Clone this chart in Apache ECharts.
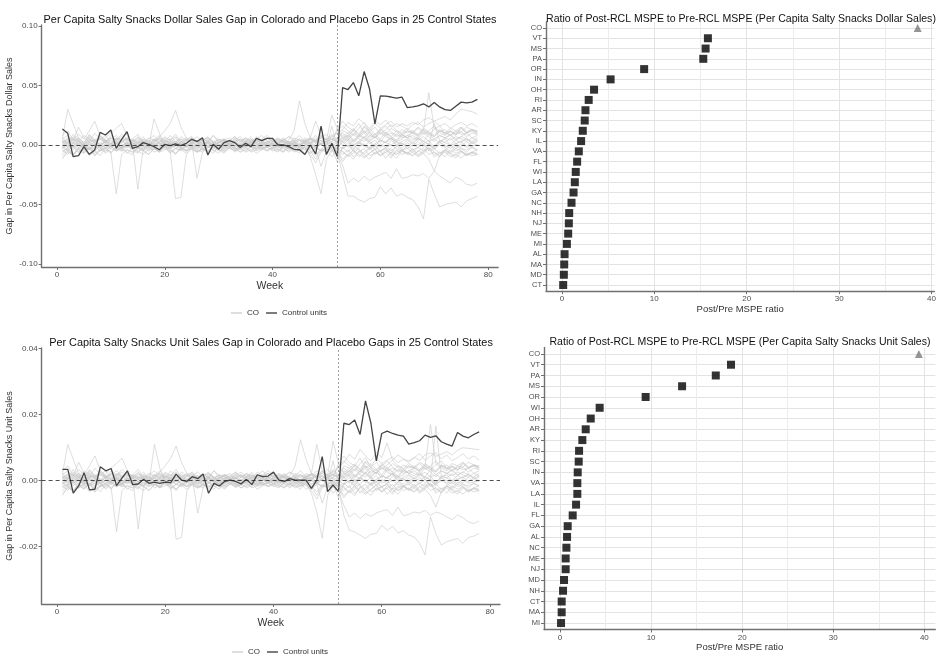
<!DOCTYPE html>
<html><head><meta charset="utf-8">
<script src="https://cdn.jsdelivr.net/npm/echarts@6/dist/echarts.min.js"></script>
<style>html,body{margin:0;padding:0;background:#fff}#c{width:939px;height:655px}</style>
</head><body><div id="c"></div><script>
// ---------- DATA ----------
const weeks = [1,2,3,4,5,6,7,8,9,10,11,12,13,14,15,16,17,18,19,20,21,22,23,24,25,26,27,28,29,30,31,32,33,34,35,36,37,38,39,40,41,42,43,44,45,46,47,48,49,50,51,52,53,54,55,56,57,58,59,60,61,62,63,64,65,66,67,68,69,70,71,72,73,74,75,76,77,78];
const treatWeek = 52;
// Dollar-sales gaps, in units of 0.001
const coDollar = [13.4,9.8,-9.8,-9,-1.4,-7.8,-4.2,10.6,8.4,12.6,-2.8,4.8,11.2,
-2.8,-1.4,2,0.6,-1.4,-4,0.6,-0.6,1,-0.6,1.4,4.8,3,
6,-8.4,0.6,-3.6,2,3.6,2,-2.2,1.4,-1.4,5.6,3.6,5.6,
5.6,0,0,-1.4,-3.6,-4,-8,0,-7.5,15.8,-8,1.4,-9.7,
48.2,46.6,52.4,41.3,61.7,47,17.8,41.3,41,40.3,39.4,40.3,31.4,
32,32.8,34.6,32,35.6,32,29.7,29,32.5,36,35.3,36,38.3];
const pd01 = [5,30,18,6,2,8,4,-2,3,6,1,-3,4, 2,-1,5,3,0,-2,4,2,6,1,-1,3,2, 0,4,2,-1,3,1,2,5,0,3,1,-2,2, 4,1,3,0,2,5,3,1,4,6,2,8,3, 12,10,14,9,16,12,18,14,17,20,15,18,16, 19,17,21,23,20,22,24,21,26,30,29,28,26];
const pd02 = [-10,-6,-8,-4,-7,-2,-5,-9,-3,-6,-41,-8,-4, -6,-2,-5,-8,-3,-6,-1,-4,-7,-3,-5,-2,-6, -4,-1,-5,-3,-6,-2,-4,-1,-3,-5,-2,-4,0, -3,-5,-2,-6,-3,-1,-4,-7,-2,-5,-3,-1,-4, -2,2,-1,3,0,-2,1,4,2,0,3,1,-1, 2,0,3,1,-2,4,2,0,1,3,-1,2,0];
const pd03 = [2,6,4,9,5,12,20,8,3,6,4,9,5, 2,-37,-4,3,5,1,4,2,-1,3,6,2,4, 1,5,3,0,2,4,1,-2,3,5,2,0,3, 1,4,2,-1,3,0,5,2,4,1,3,6,2, 8,6,10,7,12,9,6,11,8,10,7,9,12, 10,8,11,9,7,12,10,8,11,9,10,12,11];
const pd04 = [-5,-3,0,-6,-2,-4,1,-3,-5,-1,-4,-2,0, -3,-6,-1,-4,-2,0,-3,-5,-45,-44,-8,-3,-1, -4,-2,0,-3,-1,2,-2,-4,0,-1,-3,1,-2, 0,-3,-1,-4,1,-2,0,-3,-1,-5,-2,0,-3, -6,-9,-5,-8,-11,-7,-4,-9,-6,-3,-8,-5,-7, -4,-9,-6,-2,-10,-7,-5,-8,-11,-6,-9,-7,-8];
const pd05 = [3,1,5,2,-1,4,2,6,3,0,4,2,5, 3,1,4,0,2,7,12,18,29,15,6,2,-28, -6,3,1,4,-1,2,5,0,3,1,4,2,6, 3,1,5,2,4,0,3,6,2,4,1,3,5, 3,6,2,8,5,3,7,4,2,6,3,5,8, 6,4,7,3,5,8,6,4,7,5,3,6,4];
const pd06 = [-2,-5,-1,-3,0,-4,-2,1,-3,-1,-5,-2,0, -3,-1,-4,0,-2,-5,-1,-3,1,-2,-4,0,-1, -3,-5,-2,0,-4,-1,-3,-6,-2,0,-3,-1,-4, -2,0,-3,-5,-1,-4,-2,-10,-25,-41,-12,-4,-8, -3,0,-4,2,-1,-3,1,-2,0,-5,-1,2,-3, 0,-2,1,-4,-1,3,-2,0,-3,1,-2,-1,0];
const pd07 = [4,2,6,3,8,5,2,7,4,1,5,3,6, 4,2,5,1,3,6,2,4,7,3,1,5,2, 4,6,3,1,5,2,4,7,3,5,2,4,6, 3,5,2,4,12,37,18,6,3,8,5,2,14, 20,15,12,18,10,14,9,12,16,11,8,13,10, 12,9,14,11,8,13,10,12,9,15,11,13,12];
const pd08 = [-1,3,-2,1,-4,0,2,-3,1,-1,3,-2,0, 2,-1,1,-3,0,2,-2,1,-1,3,0,-2,1, -1,2,0,-3,1,-1,2,0,-2,1,-1,3,0, -2,1,0,-1,2,-3,0,1,-2,-5,2,-4,-8, -17,-32,-28,-31,-26,-30,-27,-25,-23,-28,-20,-28,-27, -25,-26,-24,-28,-22,-26,-29,-32,-27,-29,-33,-34,-32];
const pd09 = [1,-2,2,0,-3,1,-1,2,-2,0,1,-3,2, -1,1,-2,0,2,-1,1,-3,0,2,-1,1,-2, 0,2,-1,1,-2,0,3,-1,1,-2,0,2,-1, 1,-1,0,2,-2,1,-1,0,-3,1,-4,0,-6, -25,-43,-43,-46,-48,-45,-44,-35,-41,-36,-43,-41,-44, -46,-52,-62,-29,-41,-52,-50,-49,-48,-52,-47,-45,-43];
const pd10 = [2,-1,4,1,-2,3,0,5,2,-1,3,1,-2, 4,1,3,-1,2,5,0,3,1,-2,4,2,0, 3,1,-1,2,4,0,3,-2,1,4,2,0,3, 1,-1,3,2,0,4,1,3,-1,2,5,1,3, 6,4,9,5,3,8,6,10,7,5,9,6,8, 10,7,12,44,14,10,8,12,9,11,7,10,9];
const pd11 = [-3,0,-2,2,-1,-4,1,-2,0,-3,2,-1,-2, 0,-3,1,-1,-4,2,0,-2,1,-3,-1,2,0, -2,1,-1,-3,0,2,-2,1,-1,0,-3,1,-2, 0,2,-1,1,-2,0,3,6,20,8,4,25,14, 6,10,4,8,12,6,9,5,11,7,4,9,6, 8,5,10,7,3,8,6,9,5,7,10,6,8];
const pd12 = [5,8,3,6,2,9,4,7,3,5,8,4,6, 3,7,2,5,8,3,6,4,9,2,5,7,3, 6,2,8,4,5,3,7,2,6,4,3,5,8, 4,6,3,7,5,2,6,4,8,3,5,7,10, 13,19,16,22,18,14,20,17,21,15,18,16,13, 17,19,15,18,20,16,18,14,17,19,16,18,15];
const pd13 = [-6,-3,-8,-2,-5,-1,-7,-4,-2,-6,-3,-5,-1, -4,-7,-2,-5,-3,-6,-1,-4,-8,-2,-5,-3,-6, -2,-4,-7,-1,-5,-3,-2,-6,-4,-1,-5,-3,-2, -4,-6,-1,-3,-5,-2,-7,-4,-9,-3,-6,-2,-5, -8,-4,-10,-6,-3,-9,-7,-5,-11,-6,-8,-4,-7, -9,-5,-3,-8,-6,-10,-4,-7,-9,-5,-8,-6,-7];
const pd14 = [8,12,4,15,6,3,10,5,2,8,4,7,3, 5,9,2,6,4,8,3,5,2,7,4,6,1, 5,3,8,2,4,6,1,5,3,7,2,4,6, 2,5,3,1,6,4,2,5,3,7,4,9,5, 10,7,13,9,6,11,8,14,10,7,12,9,6, 11,8,13,10,7,12,9,11,8,14,10,12,9];
const pd15 = [-12,-5,-8,-3,-7,-2,-9,-4,-6,-1,-5,-3,-7, -2,-5,-8,-3,-1,-6,-4,-2,-7,-3,-5,-1,-4, -6,-2,-4,-7,-1,-3,-5,-2,-6,-4,-1,-3,-5, -2,-4,-6,-1,-3,-5,-2,-8,-15,-6,-3,-10,-4, -5,-10,-7,-3,-8,-12,-6,-9,-4,-7,-11,-5,-8, -6,-10,-7,-12,-22,-9,-6,-10,-8,-11,-7,-9,-8];
const pd16 = [0,4,2,6,1,3,5,0,2,4,1,3,0, 2,5,1,3,0,4,2,1,3,0,5,2,4, 1,3,0,2,4,1,3,5,0,2,4,1,3, 0,2,5,1,3,0,4,2,6,1,3,5,2, 5,8,3,6,10,4,7,2,9,5,3,8,6, 4,7,3,9,5,2,6,8,4,7,5,3,6];
const pd17 = [3,-2,1,5,-1,2,4,0,6,10,14,18,8, 2,-1,3,0,4,1,-2,2,0,3,-1,1,4, 0,2,-1,3,1,-2,2,0,4,1,-1,3,0, 2,-1,1,3,0,-2,2,1,4,0,3,-1,2, 3,-2,5,1,7,3,-1,4,2,6,0,3,5, 2,6,1,4,-2,3,5,0,4,2,6,1,3];
const pd18 = [-2,1,-4,0,-3,2,-1,-5,1,-2,0,-4,2, -1,-3,1,-2,22,10,-1,2,-3,0,-2,1,-4, 0,-2,2,-1,-3,1,0,-2,3,-1,-4,0,1, -3,0,-2,1,-1,-4,0,2,-2,1,-3,0,-5, -12,-8,-4,-10,-6,-2,-8,-5,-3,-9,-6,-4,-7, -3,-8,-5,-2,-6,-9,-4,-7,-3,-5,-8,-6,-4];
const pd19 = [6,2,9,4,1,7,3,5,8,2,6,4,1, 5,3,7,1,4,6,2,8,3,5,1,4,7, 3,6,2,5,1,4,7,3,6,2,5,8,3, 6,2,4,7,3,5,1,6,4,8,2,5,3, 0,4,-3,2,-1,3,-4,1,-2,4,0,-3,2, -1,3,-2,1,-4,2,0,-3,1,-2,3,-1,0];
const pd20 = [-4,-8,-2,-6,-3,-9,-5,-1,-7,-3,-5,-2,-6, -8,-3,-5,-1,-6,-4,-2,-7,-3,-5,-1,-4,-6, -3,-7,-2,-5,-4,-1,-6,-3,-5,-2,-7,-4,-1, -5,-3,-6,-2,-4,-7,-1,-5,-12,-4,-6,-3,-14, -2,-6,1,-4,-8,-3,0,-5,-2,-7,-1,-4,-3, -6,-2,-5,0,-3,-7,-4,-1,-5,-3,-6,-2,-4];
const pd21 = [2,5,-1,3,0,6,2,-2,4,1,3,-1,2, 0,3,1,4,-1,2,5,0,3,1,-2,4,2, -1,3,0,2,5,1,-1,3,2,0,4,1,-2, 3,1,4,0,2,-1,3,5,1,4,0,2,-3, 4,8,12,7,15,10,6,13,9,14,11,7,12, 10,14,9,12,16,11,13,8,12,15,10,13,11];
const pd22 = [-1,-4,2,-2,1,-3,0,-5,-2,1,-1,-3,0, -2,1,-4,0,-1,-3,2,-2,0,-4,1,-1,-3, 2,-1,-3,0,-2,1,-4,-1,0,-2,2,-3,-1, 1,-2,0,-3,2,-1,-4,0,-2,1,-3,-6,0, -3,0,-5,-2,1,-4,-1,-6,-2,0,-3,-5,-1, -4,-2,1,-5,-3,0,-2,-6,-1,-3,-4,-2,-5];
const pd23 = [4,1,7,3,0,5,2,8,4,1,6,3,5, 2,6,3,0,5,2,7,4,1,5,3,6,2, 4,7,2,5,3,0,6,3,5,2,7,4,1, 5,3,6,2,4,8,3,5,2,6,9,4,12, 16,12,8,14,19,11,15,9,13,17,12,10,14, 11,15,12,9,13,16,10,14,12,11,15,13,10];
const pd24 = [-3,2,-1,4,-2,1,-4,0,3,-1,2,-3,1, -1,3,0,-2,2,-1,4,0,-3,1,-1,2,0, 3,-1,1,-2,2,0,-3,1,-1,3,0,-2,2, -1,1,-2,3,0,-1,2,-3,1,0,-2,16,-2, 2,5,0,3,7,1,4,-1,3,6,2,0,4, 1,5,3,0,18,4,2,6,1,3,5,2,4];
const pd25 = [-8,-4,-10,-3,-6,-2,-9,-5,-3,-7,-1,-5,-4, -6,-2,-4,-8,-3,-5,-1,-6,-3,-4,-7,-2,-5, -3,-6,-1,-4,-7,-2,-5,-3,-1,-6,-4,-2,-5, -3,-1,-5,-2,-6,-4,-2,-7,-3,-18,-5,-2,-6, -14,-8,-12,-5,-10,-7,-3,-9,-6,-11,-4,-8,-6, -9,-5,-7,-3,-8,-6,-10,-4,-7,-5,-9,-6,-8];
// Unit-sales gaps, in units of 0.0001
const coUnit = [34,34,-38,-16,24,-28,-26,42,30,37,-15,8,30, -12,-10,4,-8,-4,-8,-4,-6,20,2,-2,12,6, 20,-38,-8,-16,-2,2,-2,-10,4,-12,18,12,14, 26,2,-2,6,2,2,2,-23,2,73,-33,-13,-33, 174,170,184,140,242,174,60,143,150,143,138,135,111, 115,121,138,131,136,118,111,105,146,135,130,140,148];
const pu01 = [20,110,65,22,8,30,15,-8,12,22,4,-10,15, 8,-4,18,10,0,-8,15,8,22,4,-4,12,8, 0,15,8,-4,10,4,8,18,0,12,4,-8,8, 15,4,10,0,8,18,10,4,15,22,8,30,10, 45,38,50,34,60,45,66,52,62,72,55,65,60, 70,62,78,85,74,80,88,78,92,100,98,96,94];
const pu02 = [-38,-22,-30,-15,-26,-8,-18,-34,-11,-22,-155,-30,-15, -22,-8,-18,-30,-11,-22,-4,-15,-26,-11,-18,-8,-22, -15,-4,-18,-11,-22,-8,-15,-4,-11,-18,-8,-15,0, -11,-18,-8,-22,-11,-4,-15,-26,-8,-18,-11,-4,-15, -8,8,-4,11,0,-8,4,15,8,0,11,4,-4, 8,0,11,4,-8,15,8,0,4,11,-4,8,0];
const pu03 = [8,22,15,34,18,45,75,30,11,22,15,34,18, 8,-146,-15,11,18,4,15,8,-4,11,22,8,15, 4,18,11,0,8,15,4,-8,11,18,8,0,11, 4,15,8,-4,11,0,18,8,15,4,11,22,8, 30,22,38,26,45,34,22,41,30,38,26,34,45, 38,30,41,34,26,45,38,30,41,34,38,45,41];
const pu04 = [-18,-11,0,-22,-8,-15,4,-11,-18,-4,-15,-8,0, -11,-22,-4,-15,-8,0,-11,-18,-177,-172,-30,-11,-4, -15,-8,0,-11,-4,8,-8,-15,0,-4,-11,4,-8, 0,-11,-4,-15,4,-8,0,-11,-4,-18,-8,0,-11, -22,-34,-18,-30,-41,-26,-15,-34,-22,-11,-30,-18,-26, -15,-34,-22,-8,-38,-26,-18,-30,-41,-22,-34,-26,-30];
const pu05 = [11,4,18,8,-4,15,8,22,11,0,15,8,18, 11,4,15,0,8,26,45,68,105,55,22,8,-98, -22,11,4,15,-4,8,18,0,11,4,15,8,22, 11,4,18,8,15,0,11,22,8,15,4,11,18, 11,22,8,30,18,11,26,15,8,22,11,18,30, 22,15,26,11,18,30,22,15,26,18,11,22,15];
const pu06 = [-8,-18,-4,-11,0,-15,-8,4,-11,-4,-18,-8,0, -11,-4,-15,0,-8,-18,-4,-11,4,-8,-15,0,-4, -11,-18,-8,0,-15,-4,-11,-22,-8,0,-11,-4,-15, -8,0,-11,-18,-4,-15,-8,-38,-95,-174,-45,-15,-30, -11,0,-15,8,-4,-11,4,-8,0,-18,-4,8,-11, 0,-8,4,-15,-4,11,-8,0,-11,4,-8,-4,0];
const pu07 = [15,8,22,11,30,18,8,26,15,4,18,11,22, 15,8,18,4,11,22,8,15,26,11,4,18,8, 15,22,11,4,18,8,15,26,11,18,8,15,22, 11,18,8,15,45,124,65,22,11,30,18,8,50, 75,55,45,68,38,52,34,45,60,41,30,48,38, 45,34,52,41,30,48,38,45,34,56,41,48,45];
const pu08 = [-4,11,-8,4,-15,0,8,-11,4,-4,11,-8,0, 8,-4,4,-11,0,8,-8,4,-4,11,0,-8,4, -4,8,0,-11,4,-4,8,0,-8,4,-4,11,0, -8,4,0,-4,8,-11,0,4,-8,-18,8,-15,-30, -75,-110,-98,-115,-100,-108,-98,-92,-88,-105,-80,-106,-102, -95,-98,-90,-105,-95,-100,-110,-118,-104,-112,-125,-130,-122];
const pu09 = [4,-8,8,0,-11,4,-4,8,-8,0,4,-11,8, -4,4,-8,0,8,-4,4,-11,0,8,-4,4,-8, 0,8,-4,4,-8,0,11,-4,4,-8,0,8,-4, 4,-4,0,8,-8,4,-4,0,-11,4,-15,0,-22, -105,-150,-155,-165,-175,-162,-160,-135,-150,-138,-158,-152,-165, -170,-190,-225,-110,-160,-195,-185,-180,-175,-190,-172,-168,-160];
const pu10 = [8,-4,15,4,-8,11,0,18,8,-4,11,4,-8, 15,4,11,-4,8,18,0,11,4,-8,15,8,0, 11,4,-4,8,15,0,11,-8,4,15,8,0,11, 4,-4,11,8,0,15,4,11,-4,8,18,4,11, 22,15,34,18,11,30,22,38,26,18,34,22,30, 38,26,45,170,52,38,30,45,34,41,26,38,34];
const pu11 = [-11,0,-8,8,-4,-15,4,-8,0,-11,8,-4,-8, 0,-11,4,-4,-15,8,0,-8,4,-11,-4,8,0, -8,4,-4,-11,0,8,-8,4,-4,0,-11,4,-8, 0,8,-4,4,-8,0,11,22,110,30,15,120,52, 22,38,15,30,45,22,34,18,41,26,15,34,22, 30,18,38,26,11,30,22,34,18,26,38,22,30];
const pu12 = [18,30,11,22,8,34,15,26,11,18,30,15,22, 11,26,8,18,30,11,22,15,34,8,18,26,11, 22,8,30,15,18,11,26,8,22,15,11,18,30, 15,22,11,26,18,8,22,15,30,11,18,26,38, 55,80,65,95,75,60,85,70,114,62,78,66,55, 70,82,62,75,85,66,78,60,70,82,66,75,62];
const pu13 = [-22,-11,-30,-8,-18,-4,-26,-15,-8,-22,-11,-18,-4, -15,-26,-8,-18,-11,-22,-4,-15,-30,-8,-18,-11,-22, -8,-15,-26,-4,-18,-11,-8,-22,-15,-4,-18,-11,-8, -15,-22,-4,-11,-18,-8,-26,-15,-34,-11,-22,-8,-18, -30,-15,-38,-22,-11,-34,-26,-18,-41,-22,-30,-15,-26, -34,-18,-11,-30,-22,-38,-15,-26,-34,-18,-30,-22,-26];
const pu14 = [30,45,15,56,22,11,38,18,8,30,15,26,11, 18,34,8,22,15,30,11,18,8,26,15,22,4, 18,11,30,8,15,22,4,18,11,26,8,15,22, 8,18,11,4,22,15,8,18,11,26,15,34,18, 38,26,48,34,22,41,30,52,38,26,45,34,22, 41,30,48,38,26,45,34,41,30,52,38,45,34];
const pu15 = [-45,-18,-30,-11,-26,-8,-34,-15,-22,-4,-18,-11,-26, -8,-18,-30,-11,-4,-22,-15,-8,-26,-11,-18,-4,-15, -22,-8,-15,-26,-4,-11,-18,-8,-22,-15,-4,-11,-18, -8,-15,-22,-4,-11,-18,-8,-30,-56,-22,-11,-38,-15, -18,-38,-26,-11,-30,-45,-22,-34,-15,-26,-41,-18,-30, -22,-38,-26,-45,-80,-34,-22,-38,-30,-41,-26,-34,-30];
const pu16 = [0,15,8,22,4,11,18,0,8,15,4,11,0, 8,18,4,11,0,15,8,4,11,0,18,8,15, 4,11,0,8,15,4,11,18,0,8,15,4,11, 0,8,18,4,11,0,15,8,22,4,11,18,8, 18,30,11,22,38,15,26,8,34,18,11,30,22, 15,26,11,34,18,8,22,30,15,26,18,11,22];
const pu17 = [11,-8,4,18,-4,8,15,0,22,38,52,68,30, 8,-4,11,0,15,4,-8,8,0,11,-4,4,15, 0,8,-4,11,4,-8,8,0,15,4,-4,11,0, 8,-4,4,11,0,-8,8,4,15,0,11,-4,8, 11,-8,18,4,26,11,-4,15,8,22,0,11,18, 8,22,4,15,-8,11,18,0,15,8,22,4,11];
const pu18 = [-8,4,-15,0,-11,8,-4,-18,4,-8,0,-15,8, -4,-11,4,-8,110,38,-4,8,-11,0,-8,4,-15, 0,-8,8,-4,-11,4,0,-8,11,-4,-15,0,4, -11,0,-8,4,-4,-15,0,8,-8,4,-11,0,-18, -45,-30,-15,-38,-22,-8,-30,-18,-11,-34,-22,-15,-26, -11,-30,-18,-8,-22,-34,-15,-26,-11,-18,-30,-22,-15];
const pu19 = [22,8,34,15,4,26,11,18,30,8,22,15,4, 18,11,26,4,15,22,8,30,11,18,4,15,26, 11,22,8,18,4,15,26,11,22,8,18,30,11, 22,8,15,26,11,18,4,22,15,30,8,18,11, 0,15,-11,8,-4,11,-15,4,-8,15,0,-11,8, -4,11,-8,4,-15,8,0,-11,4,-8,11,-4,0];
const pu20 = [-15,-30,-8,-22,-11,-34,-18,-4,-26,-11,-18,-8,-22, -30,-11,-18,-4,-22,-15,-8,-26,-11,-18,-4,-15,-22, -11,-26,-8,-18,-15,-4,-22,-11,-18,-8,-26,-15,-4, -18,-11,-22,-8,-15,-26,-4,-18,-45,-15,-22,-11,-52, -8,-22,4,-15,-30,-11,0,-18,-8,-26,-4,-15,-11, -22,-8,-18,0,-11,-26,-15,-4,-18,-11,-22,-8,-15];
const pu21 = [8,18,-4,11,0,22,8,-8,15,4,11,-4,8, 0,11,4,15,-4,8,18,0,11,4,-8,15,8, -4,11,0,8,18,4,-4,11,8,0,15,4,-8, 11,4,15,0,8,-4,11,18,4,15,0,8,-11, 15,30,45,26,56,38,22,48,34,52,41,26,45, 38,52,34,45,60,41,48,30,45,56,38,48,41];
const pu22 = [-4,-15,8,-8,4,-11,0,-18,-8,4,-4,-11,0, -8,4,-15,0,-4,-11,8,-8,0,-15,4,-4,-11, 8,-4,-11,0,-8,4,-15,-4,0,-8,8,-11,-4, 4,-8,0,-11,8,-4,-15,0,-8,4,-11,-22,0, -11,0,-18,-8,4,-15,-4,-22,-8,0,-11,-18,-4, -15,-8,4,-18,-11,0,-8,-22,-4,-11,-15,-8,-18];
const pu23 = [15,4,26,11,0,18,8,30,15,4,22,11,18, 8,22,11,0,18,8,26,15,4,18,11,22,8, 15,26,8,18,11,0,22,11,18,8,26,15,4, 18,11,22,8,15,30,11,18,8,22,34,15,45, 60,45,30,52,70,41,56,34,48,62,45,38,52, 41,56,45,34,48,60,38,52,45,41,56,48,38];
const pu24 = [-11,8,-4,15,-8,4,-15,0,11,-4,8,-11,4, -4,11,0,-8,8,-4,15,0,-11,4,-4,8,0, 11,-4,4,-8,8,0,-11,4,-4,11,0,-8,8, -4,4,-8,11,0,-4,8,-11,4,0,-8,60,-8, 8,18,0,11,26,4,15,-4,11,22,8,0,15, 4,18,11,0,165,15,8,22,4,11,18,8,15];
const pu25 = [-30,-15,-38,-11,-22,-8,-34,-18,-11,-26,-4,-18,-15, -22,-8,-15,-30,-11,-18,-4,-22,-11,-15,-26,-8,-18, -11,-22,-4,-15,-26,-8,-18,-11,-4,-22,-15,-8,-18, -11,-4,-18,-8,-22,-15,-8,-26,-11,-68,-18,-8,-22, -52,-30,-45,-18,-38,-26,-11,-34,-22,-41,-15,-30,-22, -34,-18,-26,-11,-30,-22,-38,-15,-26,-18,-34,-22,-30];
// MSPE ratio (post/pre), categories listed bottom to top
const dollarStates = ['CT','MD','MA','AL','MI','ME','NJ','NH','NC','GA','LA','WI','FL','VA','IL','KY','SC','AR','RI','OH','IN','OR','PA','MS','VT','CO'];
const dollarRatio  = [0.14,0.21,0.25,0.29,0.54,0.68,0.75,0.79,1.04,1.26,1.4,1.5,1.65,1.83,2.08,2.26,2.47,2.55,2.9,3.48,5.27,8.9,15.3,15.55,15.8,38.5];
const unitStates = ['MI','MA','CT','NH','MD','NJ','ME','NC','AL','GA','FL','IL','LA','VA','IN','SC','RI','KY','AR','OH','WI','OR','MS','PA','VT','CO'];
const unitRatio  = [0.11,0.18,0.18,0.33,0.44,0.62,0.62,0.7,0.77,0.84,1.39,1.76,1.9,1.9,1.94,2.05,2.09,2.45,2.82,3.37,4.35,9.4,13.4,17.1,18.77,39.4];
const dollarTicks = [-100,-50,0,50,100];
const unitTicks = [-200,0,200,400];
const weekTicks = [0,20,40,60,80];
const ratioTicks = [0,10,20,30,40];
const ratioMinor = [5,15,25,35];

// ---------- BUILD ----------
const placeboDollar = [pd01,pd02,pd03,pd04,pd05,pd06,pd07,pd08,pd09,pd10,pd11,pd12,pd13,pd14,pd15,pd16,pd17,pd18,pd19,pd20,pd21,pd22,pd23,pd24,pd25];
const placeboUnit = [pu01,pu02,pu03,pu04,pu05,pu06,pu07,pu08,pu09,pu10,pu11,pu12,pu13,pu14,pu15,pu16,pu17,pu18,pu19,pu20,pu21,pu22,pu23,pu24,pu25];
[coDollar,coUnit].concat(placeboDollar,placeboUnit).forEach((a,i)=>{ if(a.length!==78) throw new Error('bad length in array #'+i+': '+a.length); });

const FONT = 'Liberation Sans, Arial, sans-serif';
const GRAYLINE = 'rgba(200,200,200,0.6)';
const GRAYLEG = '#d0d0d0';
const DARK = '#444';
const AXC = '#707070';
const pair = arr => weeks.map((w,i)=>[w, arr[i]]);

function gapSeries(list, co, xi, yi){
  const s = list.map(arr => ({
    type:'line', name:'CO', xAxisIndex:xi, yAxisIndex:yi, data:pair(arr),
    symbol:'none', silent:true, itemStyle:{color:GRAYLEG}, lineStyle:{color:GRAYLINE, width:1}, z:2
  }));
  s.push({
    type:'line', name:'Control units', xAxisIndex:xi, yAxisIndex:yi, data:pair(co),
    symbol:'none', itemStyle:{color:DARK}, lineStyle:{color:DARK, width:1.3}, z:4,
    markLine:{silent:true, symbol:'none', label:{show:false}, animation:false, data:[
      {xAxis:treatWeek, lineStyle:{type:[2,2], color:'#888', width:0.8}},
      {yAxis:0, lineStyle:{type:[4,3], color:'#222', width:0.8}}
    ]}
  });
  return s;
}
function ratioSeries(states, ratio, xi, yi){
  const sq = [], tri = [];
  states.forEach((st,i)=>{ (st==='CO'?tri:sq).push([ratio[i], i]); });
  return [
    {type:'scatter', xAxisIndex:xi, yAxisIndex:yi, data:sq, symbol:'rect', symbolSize:8, itemStyle:{color:'#000'}, z:5},
    {type:'scatter', xAxisIndex:xi, yAxisIndex:yi, data:tri, symbol:'triangle', symbolSize:8, itemStyle:{color:'#7a7a7a'}, z:5}
  ];
}
const tickLabel = {color:'#4d4d4d', fontSize:8, fontFamily:FONT, margin:4};
const baseAxisLine = {show:true, onZero:false, lineStyle:{color:AXC, width:1.4}};
const baseTick = {show:true, length:3, lineStyle:{color:AXC, width:1}};

function weekAxis(gi){
  return {type:'value', gridIndex:gi, min:-2.85, max:81.85, axisLine:baseAxisLine, axisTick:{...baseTick, customValues:weekTicks},
    axisLabel:{...tickLabel, customValues:weekTicks}, splitLine:{show:false},
    name:'Week', nameLocation:'middle', nameGap:14, nameTextStyle:{fontSize:10.5, color:'#333', fontFamily:FONT}};
}
function gapYAxis(gi, min, max, ticks, div, name){
  return {type:'value', gridIndex:gi, min, max, axisLine:baseAxisLine, axisTick:{...baseTick, customValues:ticks},
    axisLabel:{...tickLabel, customValues:ticks, formatter:v=>(v/div).toFixed(2)}, splitLine:{show:false},
    name, nameLocation:'middle', nameGap:28, nameTextStyle:{fontSize:9, color:'#333', fontFamily:FONT}};
}
function ratioXAxis(gi, min, max){
  return [
    {type:'value', gridIndex:gi, min, max, axisLine:baseAxisLine, axisTick:{...baseTick, customValues:ratioTicks},
      axisLabel:{...tickLabel, customValues:ratioTicks}, splitLine:{show:true, lineStyle:{color:'#e3e3e3', width:1}},
      name:'Post/Pre MSPE ratio', nameLocation:'middle', nameGap:13, nameTextStyle:{fontSize:9.5, color:'#333', fontFamily:FONT}},
    {type:'value', gridIndex:gi, min, max, axisLine:{show:false}, axisTick:{show:false, customValues:ratioMinor},
      axisLabel:{show:false, customValues:ratioMinor}, splitLine:{show:true, lineStyle:{color:'#ececec', width:1}}}
  ];
}
function ratioYAxis(gi, states){
  const idx = states.map((s,i)=>i);
  return {type:'value', gridIndex:gi, min:-0.6, max:states.length-0.4, axisLine:baseAxisLine,
    axisTick:{...baseTick, customValues:idx},
    axisLabel:{...tickLabel, fontSize:7.5, customValues:idx, formatter:v=>states[Math.round(v)]},
    splitLine:{show:true, lineStyle:{color:'#e3e3e3', width:1}}};
}
const titleStyle = {fontSize:10.9, fontWeight:'normal', color:'#111', fontFamily:FONT};
const titleStyleR = {...titleStyle, fontSize:10.55};
const legendBase = {data:[{name:'CO', icon:'rect'},{name:'Control units', icon:'rect'}], itemWidth:11, itemHeight:1.4, itemGap:7,
  textStyle:{fontSize:8, color:'#333', fontFamily:FONT}, selectedMode:false};

const option = {
  animation:false,
  backgroundColor:'#fff',
  title:[
    {text:'Per Capita Salty Snacks Dollar Sales Gap in Colorado and Placebo Gaps in 25 Control States', left:265, top:9, textAlign:'center', textStyle:titleStyle},
    {text:'Ratio of Post-RCL MSPE to Pre-RCL MSPE (Per Capita Salty Snacks Dollar Sales)', left:736, top:9, textAlign:'center', textStyle:titleStyleR},
    {text:'Per Capita Salty Snacks Unit Sales Gap in Colorado and Placebo Gaps in 25 Control States', left:266, top:332, textAlign:'center', textStyle:titleStyle},
    {text:'Ratio of Post-RCL MSPE to Pre-RCL MSPE (Per Capita Salty Snacks Unit Sales)', left:735, top:332, textAlign:'center', textStyle:titleStyleR}
  ],
  legend:[
    {...legendBase, left:226, top:304},
    {...legendBase, left:227, top:643}
  ],
  grid:[
    {left:41.6, top:25, width:456.5, height:242},
    {left:546, top:21.8, width:390.8, height:269.4},
    {left:41.6, top:348, width:458.4, height:256},
    {left:544, top:347.5, width:391.3, height:282}
  ],
  xAxis:[ weekAxis(0), ...ratioXAxis(1,-1.72,40.3), weekAxis(2), ...ratioXAxis(3,-1.76,41.2) ],
  yAxis:[
    gapYAxis(0, -102.5, 100.8, dollarTicks, 1000, 'Gap in Per Capita Salty Snacks Dollar Sales'),
    ratioYAxis(1, dollarStates),
    gapYAxis(2, -373.6, 402, unitTicks, 10000, 'Gap in Per Capita Salty Snacks Unit Sales'),
    ratioYAxis(3, unitStates)
  ],
  series:[
    ...gapSeries(placeboDollar, coDollar, 0, 0),
    ...ratioSeries(dollarStates, dollarRatio, 1, 1),
    ...gapSeries(placeboUnit, coUnit, 3, 2),
    ...ratioSeries(unitStates, unitRatio, 4, 3)
  ]
};
const chart = echarts.init(document.getElementById('c'), null, {renderer:'canvas'});
chart.setOption(option);
</script></body></html>
